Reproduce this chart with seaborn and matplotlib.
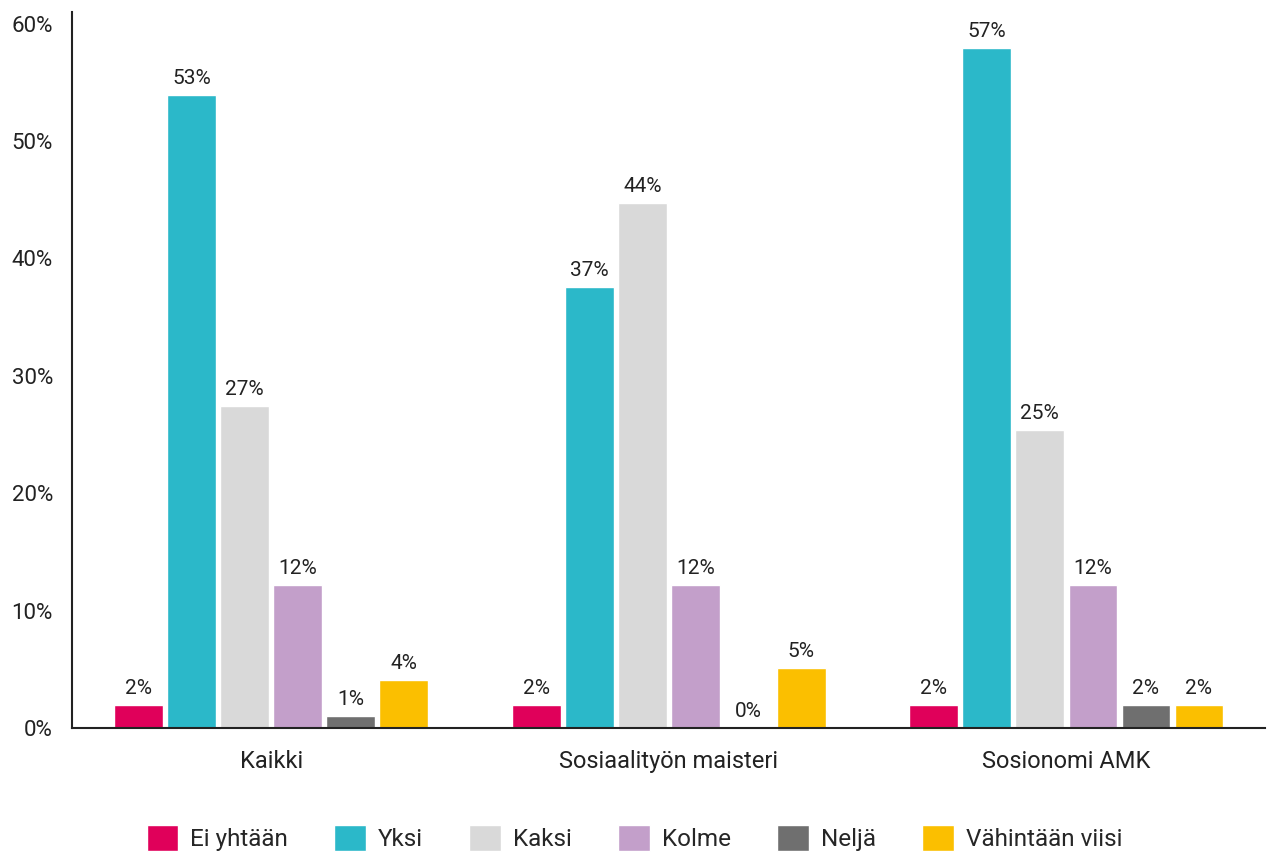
import seaborn as sns
import matplotlib.pyplot as plt
import pandas as pd

# Arvot luettu kuvasta
ryhmat = ["Kaikki", "Sosiaalityön maisteri", "Sosionomi AMK"]
vastaukset = ["Ei yhtään", "Yksi", "Kaksi", "Kolme", "Neljä", "Vähintään viisi"]
kaikki = [2.0, 53.9, 27.4, 12.2, 1.0, 4.1]
maisteri = [2.0, 37.6, 44.7, 12.2, 0.0, 5.1]
sosionomi = [2.0, 57.9, 25.4, 12.2, 2.0, 2.0]
nimiot_kaikki = ["2%", "53%", "27%", "12%", "1%", "4%"]
nimiot_maisteri = ["2%", "37%", "44%", "12%", "0%", "5%"]
nimiot_sosionomi = ["2%", "57%", "25%", "12%", "2%", "2%"]
varit = ["#E0005A", "#2BB8C9", "#D9D9D9", "#C39FCA", "#6F6F6F", "#FBBF00"]

rivit = []
for ryhma, arvot in zip(ryhmat, [kaikki, maisteri, sosionomi]):
    for v, a in zip(vastaukset, arvot):
        rivit.append({"Ryhmä": ryhma, "Vastaus": v, "Osuus": a})
df = pd.DataFrame(rivit)

sns.set_style("white")
plt.rcParams["font.family"] = ["Roboto", "DejaVu Sans"]

fig = plt.figure(figsize=(12.69, 8.52), dpi=100)
ax = fig.add_axes([0.057, 0.1455, 0.94, 0.8405])

sns.barplot(data=df, x="Ryhmä", y="Osuus", hue="Vastaus", order=ryhmat,
            hue_order=vastaukset, palette=varit, gap=0.08, width=0.8,
            saturation=1, ax=ax)

# Pylväiden nimiöt
nimiot = [nimiot_kaikki, nimiot_maisteri, nimiot_sosionomi]
for i, cont in enumerate(ax.containers):
    ax.bar_label(cont, labels=[nimiot[j][i] for j in range(3)],
                 padding=5, fontsize=15, color="#222222")

ax.set_xlim(-0.5, 2.5)
ax.set_ylim(0, 61)
ax.set_yticks(range(0, 61, 10))
ax.set_yticklabels([f"{t}%" for t in range(0, 61, 10)])
ax.tick_params(axis="both", length=0, labelsize=16, colors="#222222")
ax.tick_params(axis="x", pad=16, labelsize=17)
ax.tick_params(axis="y", pad=14)
ax.set_xlabel("")
ax.set_ylabel("")
sns.despine(ax=ax, top=True, right=True)
for s in ["left", "bottom"]:
    ax.spines[s].set_color("#222222")
    ax.spines[s].set_linewidth(1.5)

ax.legend(loc="lower center", bbox_to_anchor=(0.5, -0.025), bbox_transform=fig.transFigure,
          ncol=6, frameon=False, fontsize=17.5, handlelength=1.3, handleheight=1.3,
          columnspacing=1.9, handletextpad=0.5)

fig.savefig("out.png", dpi=100)
